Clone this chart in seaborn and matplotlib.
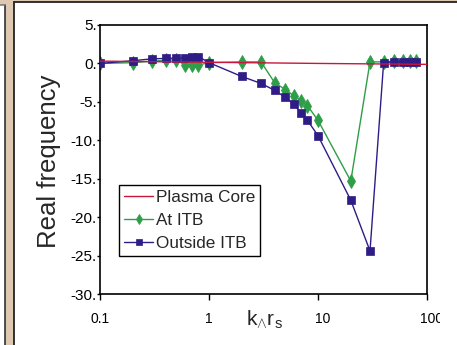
import matplotlib
matplotlib.use("Agg")
import matplotlib.pyplot as plt
import matplotlib.transforms as mtransforms
import seaborn as sns
from matplotlib.patches import Rectangle
from matplotlib.lines import Line2D
from matplotlib.ticker import NullLocator

# ---------------- data ----------------
k_itb = [0.1, 0.2, 0.3, 0.4, 0.5, 0.6, 0.7, 0.8, 1, 2, 3, 4, 5, 6, 7, 8, 10, 20, 30, 40, 50, 60, 70, 80]
v_itb = [0.0, 0.1, 0.3, 0.4, 0.5, -0.2, -0.2, -0.2, 0.1, 0.2, 0.2, -2.5, -3.4, -4.2, -4.85, -5.5, -7.4, -15.3, 0.2, 0.2, 0.3, 0.3, 0.3, 0.3]

k_out = [0.1, 0.2, 0.3, 0.4, 0.5, 0.6, 0.7, 0.8, 1, 2, 3, 4, 5, 6, 7, 8, 10, 20, 30, 40, 50, 60, 70, 80]
v_out = [0.0, 0.35, 0.6, 0.65, 0.7, 0.7, 0.9, 0.9, 0.1, -1.7, -2.6, -3.5, -4.4, -5.3, -6.5, -7.4, -9.4, -17.8, -24.4, 0.1, 0.2, 0.2, 0.2, 0.2]

k_core = [0.1, 1, 10, 100]
v_core = [0.3, 0.15, 0.0, -0.12]

x_ticks = [0.1, 1, 10, 100]
x_tick_labels = ["0.1", "1", "10", "100"]
y_ticks = [5, 0, -5, -10, -15, -20, -25, -30]
y_tick_labels = ["5.", "0.", "-5.", "-10.", "-15.", "-20.", "-25.", "-30."]

# ---------------- style ----------------
sns.set_style("white")
plt.rcParams["font.family"] = ["Liberation Sans", "DejaVu Sans"]
plt.rcParams["mathtext.fontset"] = "custom"
plt.rcParams["mathtext.rm"] = "Liberation Sans"
plt.rcParams["mathtext.it"] = "Liberation Sans"

GREEN = "#2E9E48"
PURPLE = "#2F1C86"
RED = "#C8173A"
BEIGE = "#DFC8B2"
DARK = "#222222"

W, H = 457, 345
fig = plt.figure(figsize=(W / 100, H / 100), dpi=100, facecolor=BEIGE)

def fx(px):
    return px / W

def fy(py):
    return 1 - py / H

# screenshot frame pieces
fig.add_artist(Rectangle((fx(14), 0), 1 - fx(14), fy(2), transform=fig.transFigure,
                         facecolor="white", edgecolor="none", zorder=-3))
fig.add_artist(Line2D([fx(14), fx(14)], [0, fy(2)], transform=fig.transFigure,
                      color=DARK, lw=1.3, zorder=-2))
fig.add_artist(Line2D([fx(14), 1], [fy(2), fy(2)], transform=fig.transFigure,
                      color=DARK, lw=1.3, zorder=-2))
fig.add_artist(Rectangle((0, 0), fx(5), fy(5), transform=fig.transFigure,
                         facecolor="white", edgecolor="none", zorder=-3))
fig.add_artist(Line2D([fx(5.3), fx(5.3)], [0, fy(5)], transform=fig.transFigure,
                      color=DARK, lw=1.1, zorder=-2))
fig.add_artist(Line2D([0, fx(5.3)], [fy(5), fy(5)], transform=fig.transFigure,
                      color="#777777", lw=1.1, zorder=-2))

ax = fig.add_axes([fx(100), 51 / H, 327 / W, 269 / H])
ax.set_facecolor("white")

sns.lineplot(x=k_itb, y=v_itb, ax=ax, color=GREEN, linewidth=1.0, marker="d",
             markersize=7.0, markeredgecolor=GREEN, markeredgewidth=0.6,
             label="At ITB", zorder=2)
sns.lineplot(x=k_out, y=v_out, ax=ax, color=PURPLE, linewidth=1.0, marker="s",
             markersize=5.5, markeredgecolor=PURPLE, markeredgewidth=0.5,
             label="Outside ITB", zorder=3)
sns.lineplot(x=k_core, y=v_core, ax=ax, color=RED, linewidth=1.0,
             label="Plasma Core", zorder=4)

ax.set_xscale("log")
ax.set_xlim(0.1, 100)
ax.set_ylim(-30, 5)
ax.set_xticks(x_ticks)
ax.set_xticklabels(x_tick_labels)
ax.xaxis.set_minor_locator(NullLocator())
ax.set_yticks(y_ticks)
ax.set_yticklabels(y_tick_labels)
ax.tick_params(axis="x", direction="out", length=4, width=1.0, pad=9,
               labelsize=10, colors="black", bottom=True)
ax.tick_params(axis="y", direction="out", length=2, width=1.0, pad=0.5,
               labelsize=11, colors="black", left=True)
# the reference's "10" and "100" labels sit a little right of their ticks
for lab in ax.get_xticklabels():
    if lab.get_text() in ("10", "100"):
        lab.set_transform(lab.get_transform() +
                          mtransforms.ScaledTranslation(5 / 100, 0, fig.dpi_scale_trans))
for s in ax.spines.values():
    s.set_color("black")
    s.set_linewidth(1.2)
    s.set_visible(True)
ax.set_xlabel("")
ax.set_ylabel("Real frequency", fontsize=18.5)
ax.yaxis.set_label_coords(-0.157, 0.495)
ax.yaxis.label.set_verticalalignment("center")

fig.text(fx(264), fy(320), r"$\mathrm{k}_{\wedge}\mathrm{r}_{\mathrm{s}}$",
         fontsize=15, ha="center", va="center")

handles, labels = ax.get_legend_handles_labels()
order = [labels.index("Plasma Core"), labels.index("At ITB"), labels.index("Outside ITB")]
leg = ax.legend([handles[i] for i in order], [labels[i] for i in order],
                loc="upper left", bbox_to_anchor=(fx(119), fy(185)),
                bbox_transform=fig.transFigure, borderaxespad=0, frameon=True,
                fancybox=False, edgecolor="black", framealpha=1, fontsize=12.3,
                handlelength=1.7, handletextpad=0.15, labelspacing=0.45,
                borderpad=0.3, numpoints=1, markerscale=0.8)
leg.get_frame().set_linewidth(1.0)

# clipped "100" as in the reference screenshot
fig.add_artist(Rectangle((fx(440), fy(336)), 1 - fx(440), (336 - 303) / H,
                         transform=fig.transFigure, facecolor="white",
                         edgecolor="none", zorder=10))

fig.savefig("out.png", dpi=100, facecolor=BEIGE)
